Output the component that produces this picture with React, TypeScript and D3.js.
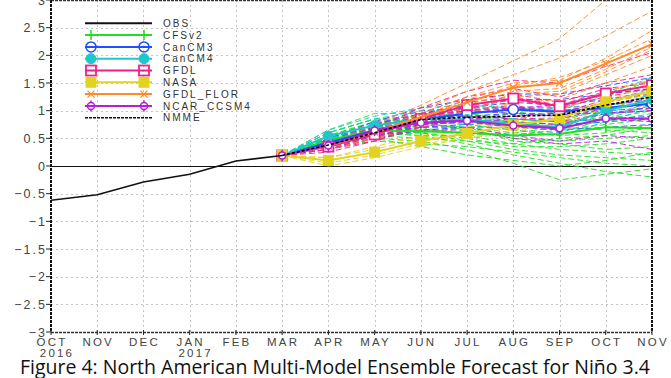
import React from "react";
import * as d3 from "d3";

const months = ["OCT","NOV","DEC","JAN","FEB","MAR","APR","MAY","JUN","JUL","AUG","SEP","OCT","NOV"];
const yearIdx = [0, 3];
const yearLabels = ["2016", "2017"];
const yTicks = [-3,-2.5,-2,-1.5,-1,-0.5,0,0.5,1,1.5,2,2.5,3];

// Observed OCT 2016 .. MAR 2017
const obsValues = [-0.62,-0.52,-0.29,-0.15,0.09,0.19];
const forecastStart = 5; // MAR

// Ensemble means MAR..NOV
const nmmeMean = [0.19,0.38,0.6,0.84,0.88,0.9,0.92,1.1,1.25];
const cfsMean = [0.19,0.47,0.64,0.63,0.6,0.55,0.58,0.7,0.68];
const cancm3Mean = [0.19,0.42,0.64,0.84,0.95,1.02,0.98,1.05,1.13];
const cancm4Mean = [0.19,0.54,0.73,0.85,0.84,0.77,0.7,1.0,1.2];
const gfdlMean = [0.19,0.35,0.57,0.85,1.1,1.22,1.08,1.31,1.46];
const nasaMean = [0.19,0.1,0.25,0.45,0.59,0.74,0.86,1.16,1.35];
const florMean = [0.19,0.36,0.62,0.88,1.15,1.42,1.5,1.85,2.2];
const ncarMean = [0.19,0.37,0.64,0.78,0.82,0.73,0.68,0.86,0.86];

// Ensemble members APR..NOV
const cfsMembers = [
  [0.55,0.80,0.85,0.80,0.70,0.75,0.90,1.10],
  [0.50,0.75,0.70,0.55,0.40,0.30,0.25,0.20],
  [0.45,0.60,0.55,0.40,0.20,0.05,-0.10,-0.20],
  [0.40,0.55,0.60,0.70,0.75,0.85,1.00,1.30],
  [0.60,0.85,0.80,0.65,0.50,0.45,0.50,0.55],
  [0.35,0.50,0.45,0.30,0.05,-0.25,-0.15,-0.05],
  [0.50,0.70,0.75,0.85,0.95,1.05,1.25,1.55],
  [0.45,0.65,0.60,0.50,0.35,0.35,0.40,0.50],
  [0.55,0.75,0.65,0.60,0.55,0.65,0.75,0.85],
  [0.40,0.55,0.50,0.45,0.30,0.20,0.15,0.10],
  [0.50,0.70,0.80,0.75,0.65,0.55,0.60,0.75],
  [0.45,0.60,0.55,0.55,0.60,0.70,0.80,0.95],
  [0.55,0.80,0.75,0.70,0.45,0.40,0.30,0.35],
  [0.35,0.45,0.40,0.35,0.25,0.15,0.05,0.00],
  [0.60,0.85,0.90,0.95,0.85,0.80,0.85,1.00],
  [0.50,0.65,0.60,0.45,0.40,0.50,0.55,0.70],
  [0.65,0.95,0.95,0.90,0.80,0.70,0.65,0.60],
  [0.40,0.50,0.35,0.20,0.10,0.00,0.10,0.25],
];
const cancm3Members = [
  [0.45,0.70,0.95,1.10,1.20,1.20,1.30,1.40],
  [0.40,0.60,0.75,0.80,0.85,0.80,0.85,0.90],
  [0.35,0.55,0.80,0.95,1.05,1.00,1.10,1.20],
  [0.45,0.65,0.85,0.90,0.95,0.95,1.00,1.05],
  [0.40,0.60,0.70,0.75,0.80,0.75,0.80,0.85],
  [0.50,0.75,1.00,1.05,1.15,1.10,1.20,1.30],
  [0.35,0.55,0.75,0.85,0.90,0.95,0.95,1.00],
  [0.40,0.65,0.85,1.00,1.05,1.05,1.10,1.25],
  [0.50,0.80,1.05,1.20,1.30,1.30,1.45,1.60],
  [0.30,0.50,0.65,0.70,0.70,0.65,0.70,0.75],
];
const cancm4Members = [
  [0.60,0.85,1.00,1.00,0.95,0.90,1.15,1.40],
  [0.50,0.70,0.80,0.75,0.65,0.60,0.85,1.10],
  [0.55,0.75,0.90,0.90,0.85,0.80,1.05,1.30],
  [0.45,0.65,0.75,0.70,0.60,0.55,0.80,1.05],
  [0.55,0.70,0.85,0.80,0.75,0.70,0.95,1.20],
  [0.50,0.65,0.80,0.85,0.80,0.65,0.90,1.15],
  [0.65,0.90,1.05,1.10,1.05,1.00,1.30,1.60],
];
const gfdlMembers = [
  [0.40,0.65,0.95,1.25,1.40,1.25,1.50,1.65],
  [0.30,0.50,0.80,1.00,1.10,0.95,1.20,1.35],
  [0.35,0.55,0.85,1.15,1.25,1.10,1.35,1.55],
  [0.30,0.45,0.75,0.95,1.05,0.95,1.15,1.30],
  [0.40,0.60,0.90,1.20,1.30,1.15,1.40,1.50],
  [0.35,0.55,0.85,1.05,1.20,1.05,1.25,1.40],
  [0.45,0.70,1.05,1.35,1.55,1.50,1.80,2.05],
  [0.25,0.45,0.70,0.85,0.90,0.80,0.95,1.05],
];
const nasaMembers = [
  [0.15,0.35,0.55,0.70,0.85,1.00,1.35,1.55],
  [0.05,0.20,0.40,0.50,0.65,0.75,1.05,1.20],
  [0.10,0.25,0.45,0.55,0.70,0.85,1.15,1.30],
  [0.00,0.15,0.35,0.50,0.60,0.80,1.10,1.25],
  [0.15,0.30,0.50,0.65,0.80,0.90,1.20,1.45],
];
const florMembers = [
  [0.40,0.75,1.10,1.50,1.90,2.30,3.00,3.50],
  [0.40,0.70,1.00,1.35,1.65,1.95,2.35,2.80],
  [0.35,0.60,0.90,1.20,1.45,1.60,1.90,2.30],
  [0.30,0.55,0.80,1.05,1.30,1.35,1.70,2.10],
  [0.35,0.60,0.85,1.10,1.35,1.40,1.75,2.15],
  [0.30,0.50,0.70,0.95,1.15,1.20,1.50,1.80],
  [0.35,0.55,0.80,1.00,1.25,1.30,1.65,2.00],
  [0.40,0.65,0.95,1.25,1.50,1.55,1.95,2.45],
];
const ncarMembers = [
  [0.40,0.70,0.90,1.00,0.95,0.90,1.10,1.20],
  [0.35,0.55,0.70,0.70,0.55,0.45,0.55,0.50],
  [0.40,0.65,0.80,0.85,0.80,0.75,0.95,1.00],
  [0.30,0.55,0.65,0.65,0.50,0.40,0.45,0.30],
  [0.40,0.65,0.85,0.90,0.85,0.85,1.05,1.10],
  [0.35,0.60,0.75,0.80,0.70,0.70,0.85,0.80],
  [0.45,0.75,0.95,1.05,1.05,1.10,1.30,1.40],
];

const legendNames = ["OBS","CFSv2","CanCM3","CanCM4","GFDL","NASA","GFDL_FLOR","NCAR_CCSM4","NMME"];

type Model = { name: string; color: string; marker: string; mean: number[]; members: number[][] };
const models: Model[] = [
  { name: "CFSv2", color: "#22dd22", marker: "plus", mean: cfsMean, members: cfsMembers },
  { name: "CanCM3", color: "#1f4fff", marker: "circle", mean: cancm3Mean, members: cancm3Members },
  { name: "CanCM4", color: "#1ec8c8", marker: "dot", mean: cancm4Mean, members: cancm4Members },
  { name: "GFDL", color: "#f0208a", marker: "square", mean: gfdlMean, members: gfdlMembers },
  { name: "NASA", color: "#e2d321", marker: "fsquare", mean: nasaMean, members: nasaMembers },
  { name: "GFDL_FLOR", color: "#ff8a2a", marker: "x", mean: florMean, members: florMembers },
  { name: "NCAR_CCSM4", color: "#b21fd6", marker: "phi", mean: ncarMean, members: ncarMembers },
];

const W = 671, H = 378;
const L = 51, R = 652, T = 0, B = 332;

function Marker({ type, cx, cy, color, legend }: { type: string; cx: number; cy: number; color: string; legend?: boolean }) {
  const fill = legend ? "none" : "#fff";
  switch (type) {
    case "plus":
      return <line x1={cx} x2={cx} y1={cy - 5} y2={cy + 5} stroke={color} strokeWidth={1.5} />;
    case "circle":
      return <circle cx={cx} cy={cy} r={5} fill={fill} stroke={color} strokeWidth={1.5} />;
    case "dot":
      return <circle cx={cx} cy={cy} r={5} fill={color} stroke={color} strokeWidth={1} />;
    case "square":
      return <rect x={cx - 5} y={cy - 5} width={10} height={10} fill={fill} stroke={color} strokeWidth={1.8} />;
    case "fsquare":
      return <rect x={cx - 5.5} y={cy - 5.5} width={11} height={11} fill={color} />;
    case "x":
      return (
        <g stroke={color} strokeWidth={1.3}>
          <line x1={cx - 3.5} x2={cx + 3.5} y1={cy - 3.5} y2={cy + 3.5} />
          <line x1={cx - 3.5} x2={cx + 3.5} y1={cy + 3.5} y2={cy - 3.5} />
        </g>
      );
    case "phi":
      return (
        <g stroke={color} strokeWidth={1.5}>
          <circle cx={cx} cy={cy} r={3.5} fill={legend ? "none" : "#fff"} />
          <line x1={cx} x2={cx} y1={cy - 5.5} y2={cy - 3.5} />
          <line x1={cx} x2={cx} y1={cy + 3.5} y2={cy + 5.5} />
        </g>
      );
  }
  return null;
}

export default function App() {
  const x = d3.scaleLinear().domain([0, months.length - 1]).range([L, R]);
  const y = d3.scaleLinear().domain([-3, 3]).range([B, T]);
  const line = d3.line<[number, number]>().x((d) => x(d[0])).y((d) => y(d[1]));

  const memberPts = (vals: number[]) =>
    [[forecastStart, obsValues[forecastStart]] as [number, number]].concat(
      vals.map((v, i) => [forecastStart + 1 + i, v] as [number, number])
    );
  const meanPts = (vals: number[]) => vals.map((v, i) => [forecastStart + i, v] as [number, number]);

  const fmt = (v: number) => (v < 0 ? "\u2212" + Math.abs(v) : String(v));
  const tickFont = "'Liberation Sans', Arial, sans-serif";
  const tickColor = "#444";

  return (
    <svg width={W} height={H} style={{ position: "absolute", left: 0, top: 0, background: "#fff" }}>
      <defs>
        <clipPath id="plot">
          <rect x={L} y={T} width={R - L} height={B - T} />
        </clipPath>
      </defs>
      <rect x={0} y={0} width={W} height={H} fill="#fff" />
      {/* grid */}
      <g stroke="#c4c4c4" strokeWidth={1} strokeDasharray="2,3">
        {yTicks.filter((v) => v > -3 && v < 3 && v !== 0).map((v) => (
          <line key={"gy" + v} x1={L} x2={R} y1={Math.round(y(v)) + 0.5} y2={Math.round(y(v)) + 0.5} />
        ))}
        {months.map((m, i) =>
          i > 0 && i < months.length - 1 ? (
            <line key={"gx" + i} x1={Math.round(x(i)) + 0.5} x2={Math.round(x(i)) + 0.5} y1={T} y2={B} />
          ) : null
        )}
      </g>
      {/* zero line */}
      <line x1={L} x2={R} y1={Math.round(y(0)) + 0.5} y2={Math.round(y(0)) + 0.5} stroke="#111" strokeWidth={1.2} />

      <g clipPath="url(#plot)">
        {/* members */}
        {models.map((m) =>
          m.members.map((mem, j) => (
            <path key={m.name + j} d={line(memberPts(mem)) || ""} fill="none" stroke={m.color} strokeWidth={1} strokeDasharray="6,3" opacity={0.9} />
          ))
        )}
        {/* means */}
        {models.map((m) => (
          <g key={m.name + "mean"}>
            <path d={line(meanPts(m.mean)) || ""} fill="none" stroke={m.color} strokeWidth={2} />
            {m.mean.map((v, i) => (
              <Marker key={i} type={m.marker} cx={x(forecastStart + i)} cy={y(v)} color={m.color} />
            ))}
          </g>
        ))}
        {/* NMME */}
        <path d={line(meanPts(nmmeMean)) || ""} fill="none" stroke="#000" strokeWidth={1.6} strokeDasharray="3,2" />
        {/* OBS */}
        <path d={line(obsValues.map((v, i) => [i, v] as [number, number])) || ""} fill="none" stroke="#111" strokeWidth={1.6} />
      </g>

      {/* frame */}
      <line x1={L} x2={R} y1={T + 0.5} y2={T + 0.5} stroke="#333" strokeWidth={1.5} strokeDasharray="3,1" />
      <line x1={R} x2={R} y1={T} y2={B} stroke="#111" strokeWidth={2} strokeDasharray="3,1" />
      <line x1={L} x2={R} y1={B + 0.5} y2={B + 0.5} stroke="#333" strokeWidth={1.5} strokeDasharray="3,1" />
      <line x1={L} x2={L} y1={T} y2={B} stroke="#111" strokeWidth={2} strokeDasharray="3,1" />

      {/* y axis ticks and labels */}
      {yTicks.map((v) => (
        <g key={"yt" + v}>
          <line x1={L - 5} x2={L} y1={y(v)} y2={y(v)} stroke="#222" strokeWidth={1} />
          <text x={47} y={y(v)} dy="0.36em" textAnchor="end" fontFamily={tickFont} fontSize={12.5} letterSpacing={2} fill={tickColor}>
            {fmt(v)}
          </text>
        </g>
      ))}
      {/* x axis ticks and labels */}
      {months.map((m, i) => (
        <g key={"xt" + i}>
          <line x1={x(i)} x2={x(i)} y1={B - 2} y2={B + 3} stroke="#222" strokeWidth={1} />
          <text x={x(i) + 1} y={346} textAnchor="middle" fontFamily={tickFont} fontSize={11.5} letterSpacing={2.2} fill={tickColor}>
            {m}
          </text>
        </g>
      ))}
      {yearIdx.map((idx, k) => (
        <text key={"yr" + k} x={x(idx) + 6} y={357} textAnchor="middle" fontFamily={tickFont} fontSize={11.5} letterSpacing={2.2} fill={tickColor}>
          {yearLabels[k]}
        </text>
      ))}

      {/* legend */}
      {legendNames.map((name, i) => {
        const ly = 23.3 + i * 11.8;
        const mdl = models.find((m) => m.name === name);
        let lineEl;
        if (name === "OBS") lineEl = <line x1={85} x2={152} y1={ly} y2={ly} stroke="#111" strokeWidth={2} />;
        else if (name === "NMME") lineEl = <line x1={85} x2={152} y1={ly} y2={ly} stroke="#111" strokeWidth={1.5} strokeDasharray="3,1" />;
        else lineEl = <line x1={85} x2={152} y1={ly} y2={ly} stroke={mdl!.color} strokeWidth={2} />;
        return (
          <g key={"lg" + name}>
            {lineEl}
            {mdl && <Marker type={mdl.marker} cx={91} cy={ly} color={mdl.color} legend />}
            {mdl && <Marker type={mdl.marker} cx={144} cy={ly} color={mdl.color} legend />}
            <text x={163} y={ly} dy="0.36em" fontFamily={tickFont} fontSize={10} letterSpacing={2} fill="#333">
              {name}
            </text>
          </g>
        );
      })}

      {/* caption */}
      <text x={20} y={374} fontFamily="'Open Sans', 'Noto Sans', sans-serif" fontSize={20} textLength={630} lengthAdjust="spacingAndGlyphs" fill="#111">
        Figure 4: North American Multi-Model Ensemble Forecast for Niño 3.4
      </text>
    </svg>
  );
}
